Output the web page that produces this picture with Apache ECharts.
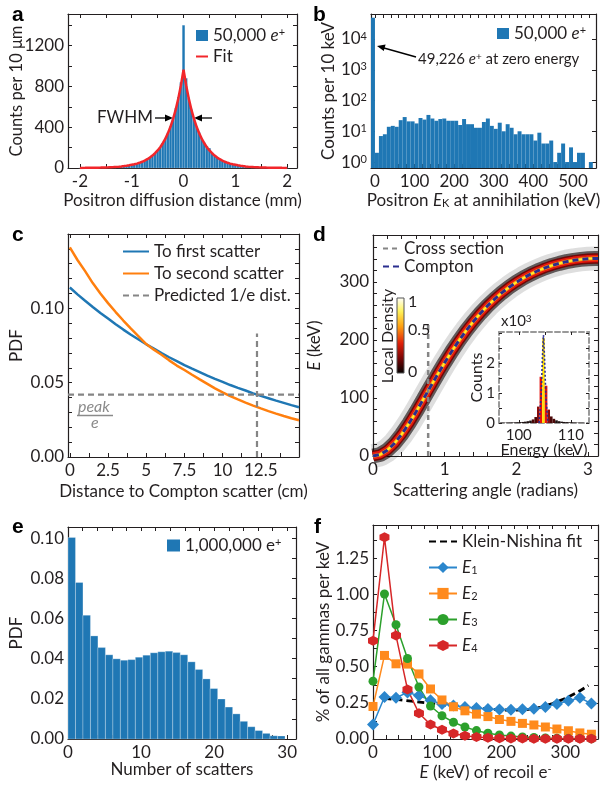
<!DOCTYPE html>
<html>
<head>
<meta charset="utf-8">
<title>Positron diffusion and Compton scatter</title>
<script src="https://cdn.jsdelivr.net/npm/echarts@6/dist/echarts.min.js"></script>
<style>
html, body { margin: 0; padding: 0; background: #fff; }
#chart { width: 608px; height: 788px; }
</style>
</head>
<body>
<div id="chart"></div>
<script>
// ---------- a : positron diffusion distance ----------
var aBinStart = -2.025, aBinWidth = 0.05;
var aCenters = [-2,-1.95,-1.9,-1.85,-1.8,-1.75,-1.7,-1.65,-1.6,-1.55, -1.5,-1.45,-1.4,-1.35,-1.3,-1.25,-1.2,-1.15,-1.1,-1.05,
  -1,-0.95,-0.9,-0.85,-0.8,-0.75,-0.7,-0.65,-0.6,-0.55, -0.5,-0.45,-0.4,-0.35,-0.3,-0.25,-0.2,-0.15,-0.1,-0.05,
  0,
  0.05,0.1,0.15,0.2,0.25,0.3,0.35,0.4,0.45,0.5, 0.55,0.6,0.65,0.7,0.75,0.8,0.85,0.9,0.95,1,
  1.05,1.1,1.15,1.2,1.25,1.3,1.35,1.4,1.45,1.5, 1.55,1.6,1.65,1.7,1.75,1.8,1.85,1.9,1.95,2];
var aCounts = [1,1,2,2,2,3,3,4,4,5, 6,7,8,10,12,14,17,20,24,28,
  33,38,45,53,63,75,89,105,124,147, 172,206,246,292,348,412,492,585,695,840,
  1400,
  880,690,580,490,410,350,292,250,215,195, 150,124,104,88,74,62,52,44,37,32,
  27,23,19,16,13,11,9,8,7,6, 5,4,4,3,3,2,2,2,1,1];
var aFit = [1.0,1.2,1.4,1.7,2.0,2.3,2.8,3.3,3.9,4.7, 5.5,6.6,7.8,9.3,11,13,15.5,18.5,22,26,
  31,36,43,51,61,73,86,102,122,145, 172,204,243,288,343,407,484,575,683,811,
  964,
  811,683,575,484,407,343,288,243,204,172, 145,122,102,86,73,61,51,43,36,31,
  26,22,18.5,15.5,13,11,9.3,7.8,6.6,5.5, 4.7,3.9,3.3,2.8,2.3,2.0,1.7,1.4,1.2,1.0];
var aXTicks = [-2,-1.5,-1,-0.5,0,0.5,1,1.5,2];
var aXLabels = [-2,-1,0,1,2];
var aYTicks = [0,200,400,600,800,1000,1200,1400];
var aYLabels = [0,400,800,1200];

// ---------- b : positron kinetic energy at annihilation ----------
var bBinStart = -10, bBinWidth = 10;
var bCounts = [49226,2,7,8,14,15,14,23,29,21, 21,18,27,24,34,26,22,25,26,22,
  22,22,16,25,17,17,13,13,20,26, 15,12,19,10,17,13,8,10,8,8,
  8,5,9,4,4,5,1,2,4,1, 3,1,2,2,0,1];
var bXTicks = [0,20,40,60,80,100,120,140,160,180,200,220,240,260,280,300,320,340,360,380,400,420,440,460,480,500,520,540];
var bXLabels = [0,100,200,300,400,500];

// ---------- c : distance to Compton scatter ----------
var cDist = [0,0.5,1,1.5,2,2.5,3,3.5,4,4.5,5,5.5,6,6.5,7,7.5,8,8.5,9,9.5,10,10.5,11,11.5,12,12.5,13,13.5,14,14.5,15];
var cFirst = [0.1140,0.1094,0.1051,0.1009,0.0969,0.0931,0.0893,0.0857,0.0822,0.0790,0.0758,0.0729,0.0699,0.0671,0.0645,0.0618,0.0594,0.0571,0.0547,0.0525,
  0.0505,0.0484,0.0465,0.0447,0.0428,0.0411,0.0395,0.0379,0.0364,0.0349,0.0335];
var cSecond = [0.1410,0.1325,0.1250,0.1170,0.1100,0.1035,0.0975,0.0918,0.0863,0.0812,0.0760,0.0722,0.0688,0.0650,0.0615,0.0585,0.0553,0.0522,0.0492,0.0462,
  0.0435,0.0410,0.0387,0.0366,0.0346,0.0327,0.0309,0.0292,0.0276,0.0261,0.0247];
var cPeakOverE = 0.042, cOneOverEDist = 12.25, cDistLineTop = 0.083;
var cXTicks = [0,1.25,2.5,3.75,5,6.25,7.5,8.75,10,11.25,12.5,13.75];
var cXLabels = [0,2.5,5,7.5,10,12.5];
var cYTicks = [0,0.01,0.02,0.03,0.04,0.05,0.06,0.07,0.08,0.09,0.10,0.11,0.12,0.13,0.14];
var cYLabels = [0,0.05,0.10];

// ---------- d : energy vs scattering angle ----------
var dTheta = [0,0.1,0.2,0.3,0.4,0.5,0.6,0.7,0.8,0.9,1.0,1.1,1.2,1.3,1.4,1.5,1.6,1.7,1.8,1.9,2.0,2.1,2.2,2.3,2.4,2.5,2.6,2.7,2.8,2.9,3.0,3.1,3.14];
var dEnergy = [0,2.54,9.98,21.85,37.39,55.73,75.98,97.29,118.92,140.28,160.93,180.55,198.97,216.05,231.77,246.13,259.18,270.96,281.56,291.05,
  299.51,307.00,313.59,319.35,324.33,328.57,332.13,335.04,337.32,339.00,340.10,340.62,340.67];
var dCrossAngle = 0.77, dCrossTop = 231;
var dXTicks = [0,0.2,0.4,0.6,0.8,1,1.2,1.4,1.6,1.8,2,2.2,2.4,2.6,2.8,3];
var dXLabels = [0,1,2,3];
var dYTicks = [0,20,40,60,80,100,120,140,160,180,200,220,240,260,280,300,320,340,360,380];
var dYLabels = [0,100,200,300];

// inset: energy spectrum at the cross section (counts x10^3)
var inBinStart = 96.5, inBinWidth = 0.5;
var inCounts = [0.01,0.01,0.012,0.015,0.018,0.02,0.025,0.03,0.035,0.045,0.06,0.08,0.12,0.2,0.55,1.55,
  2.85,1.25,0.45,0.22,0.14,0.09,0.06,0.045,0.035,0.03,0.025,0.02,0.015,0.012,0.01,0.01];
var inComptonE = [103.9,104.3,104.55,104.75,104.95,105.2,105.6];
var inComptonC = [0,0.9,2.2,2.95,2.2,0.9,0];
var inXTicks = [100,105,110];
var inXLabels = [100,110];
var inYTicks = [0,0.5,1,1.5,2,2.5,3];
var inYLabels = [0,1,2];

// ---------- e : number of scatters ----------
var eBinStart = 0, eBinWidth = 1.024;
var ePdf = [0.1003,0.0779,0.0616,0.0513,0.0455,0.0419,0.0399,0.0392,0.0395,0.0407,
  0.0417,0.0429,0.0434,0.0437,0.0430,0.0419,0.0384,0.0346,0.0299,0.0251,
  0.0199,0.0159,0.0125,0.0088,0.0061,0.0042,0.0028,0.0016,0.0015];
var eXTicks = [0,2,4,6,8,10,12,14,16,18,20,22,24,26,28,30];
var eXLabels = [0,10,20,30];
var eYTicks = [0,0.01,0.02,0.03,0.04,0.05,0.06,0.07,0.08,0.09,0.10];
var eYLabels = [0,0.02,0.04,0.06,0.08,0.10];

// ---------- f : recoil electron energy ----------
var fEnergy = [0,17.9,35.9,53.8,71.7,89.7,107.6,125.5,143.4,161.4,179.3,197.2,215.2,233.1,251.0,268.9,286.9,304.8,322.7,340.7];
var fE1 = [0.10,0.29,0.285,0.322,0.30,0.268,0.242,0.232,0.222,0.215,0.208,0.204,0.203,0.205,0.21,0.222,0.242,0.265,0.285,0.245];
var fE2 = [0.225,0.578,0.52,0.518,0.45,0.346,0.27,0.223,0.195,0.172,0.155,0.135,0.122,0.108,0.097,0.083,0.069,0.057,0.042,0.033];
var fE3 = [0.40,1.003,0.79,0.557,0.36,0.228,0.161,0.116,0.083,0.058,0.04,0.028,0.02,0.014,0.01,0.007,0.005,0.004,0.003,0.002];
var fE4 = [0.68,1.395,0.715,0.343,0.178,0.10,0.064,0.038,0.022,0.014,0.009,0.006,0.004,0.003,0.002,0.002,0.001,0.001,0.001,0.001];
var fKnE = [17.9,40,60,80,100,120,140,160,180,200,220,240,260,280,300,320,336];
var fKn = [0.281,0.272,0.262,0.252,0.242,0.232,0.223,0.214,0.207,0.201,0.199,0.203,0.218,0.245,0.28,0.325,0.37];
var fXTicks = [0,20,40,60,80,100,120,140,160,180,200,220,240,260,280,300,320,340];
var fXLabels = [0,100,200,300];
var fYTicks = [0,0.125,0.25,0.375,0.5,0.625,0.75,0.875,1,1.125,1.25,1.375];
var fYLabels = [0,0.25,0.5,0.75,1,1.25];

// ---------- styling ----------
var FONT = 'Lato';
var INK = '#231f20';
var BLUE = '#1f77b4', ORANGE = '#ff7f0e', GREEN = '#2ca02c', RED = '#d62728';
var GRAY = '#858585', NAVY = '#2b2e8f';

var RICH = {
  i: { fontStyle: 'italic', fontSize: 17, fontFamily: FONT, color: INK },
  sup: { fontSize: 11, fontFamily: FONT, color: INK, verticalAlign: 'top' },
  sub: { fontSize: 11, fontFamily: FONT, color: INK, verticalAlign: 'bottom' }
};

function zip(xs, ys) {
  return xs.map(function (x, i) { return [x, ys[i]]; });
}
function bins(start, width, vals) {
  return vals.map(function (v, i) { return [start + i * width, start + (i + 1) * width, v]; });
}
function fix2(v) { return v.toFixed(2); }
function plain(v) { return String(v); }

var xAxes = [], yAxes = [];
function axis(grid, pos, o, mirror) {
  var ax = {
    type: o.type || 'value', gridIndex: grid, position: pos,
    min: o.min, max: o.max,
    axisLine: { show: true, onZero: false, lineStyle: { color: o.lineColor || INK, width: o.lineWidth || 1.2, type: o.lineType || 'solid' } },
    axisTick: { show: true, inside: true, length: o.tickLen || 4, lineStyle: { color: INK, width: 1 } },
    axisLabel: { show: !mirror, margin: (pos === 'bottom' ? 5 : 4), color: INK, fontFamily: FONT, fontSize: o.fontSize || 17, rich: RICH,
      formatter: o.fmt || plain },
    splitLine: { show: false },
    nameMoveOverlap: false
  };
  if (o.ticks) ax.axisTick.customValues = o.ticks;
  if (o.labels) ax.axisLabel.customValues = o.labels;
  if (o.type === 'log') {
    ax.logBase = 10;
    ax.axisLabel.showMinLabel = false;
    ax.axisLabel.showMaxLabel = false;
  }
  if (!mirror && o.name) {
    ax.name = o.name;
    ax.nameLocation = 'middle';
    ax.nameGap = o.nameGap;
    ax.nameTextStyle = { color: INK, fontFamily: FONT, fontSize: o.nameSize || 17, rich: RICH };
  }
  return ax;
}
function frameAxes(grid, x, y) {
  var xi = xAxes.length, yi = yAxes.length;
  xAxes.push(axis(grid, 'bottom', x, false), axis(grid, 'top', x, true));
  yAxes.push(axis(grid, 'left', y, false), axis(grid, 'right', y, true));
  return { x: xi, y: yi };
}

function histSeries(name, ax, data, colorFn, stroke, z) {
  var base = typeof colorFn === 'string' ? colorFn : '#000';
  return {
    type: 'custom', name: name, xAxisIndex: ax.x, yAxisIndex: ax.y, z: z || 2,
    data: data, encode: { x: [0, 1], y: 2 },
    itemStyle: { color: base },
    renderItem: function (params, api) {
      var v = api.value(2);
      if (!(v > 0)) return null;
      var cs = params.coordSys;
      var p0 = api.coord([api.value(0), v]);
      var p1 = api.coord([api.value(1), v]);
      var bottom = cs.y + cs.height;
      var top = Math.max(p0[1], cs.y);
      var fill = typeof colorFn === 'string' ? colorFn : colorFn(v);
      return {
        type: 'rect',
        shape: { x: p0[0], y: top, width: p1[0] - p0[0], height: bottom - top },
        style: { fill: fill, stroke: stroke || null, lineWidth: stroke ? 0.6 : 0 }
      };
    }
  };
}
function lineSeries(name, ax, data, color, width, type, extra) {
  var s = {
    type: 'line', name: name, xAxisIndex: ax.x, yAxisIndex: ax.y,
    data: data, symbol: 'none', silent: true,
    lineStyle: { color: color, width: width, type: type || 'solid', cap: 'butt' },
    itemStyle: { color: color }
  };
  for (var k in extra) s[k] = extra[k];
  return s;
}

// grids: 0 a, 1 b, 2 c, 3 d, 4 inset, 5 e, 6 f
var grids = [
  { left: 68, top: 14, width: 229, height: 154 },
  { left: 371, top: 14, width: 225, height: 154 },
  { left: 68, top: 234, width: 231, height: 223 },
  { left: 373, top: 235, width: 225, height: 221 },
  { left: 499, top: 332, width: 90, height: 91, show: true, backgroundColor: '#fff', borderWidth: 0 },
  { left: 68, top: 527, width: 228, height: 212 },
  { left: 373, top: 525, width: 225, height: 214 }
];

var axA = frameAxes(0,
  { min: -2.23, max: 2.19, ticks: aXTicks, labels: aXLabels, name: 'Positron diffusion distance (mm)', nameGap: 24 },
  { min: 0, max: 1510, ticks: aYTicks, labels: aYLabels, name: 'Counts per 10 \u03bcm', nameGap: 43, nameSize: 16.5 });
var axB = frameAxes(1,
  { min: -10, max: 558, ticks: bXTicks, labels: bXLabels, name: 'Positron {i|E}{sub|K} at annihilation (keV)', nameGap: 24 },
  { type: 'log', min: 0.64, max: 65000, name: 'Counts per 10 keV', nameGap: 34,
    fmt: function (v) { return '10{sup|' + Math.round(Math.log10(v)) + '}'; } });
var axC = frameAxes(2,
  { min: -0.12, max: 15, ticks: cXTicks, labels: cXLabels, name: 'Distance to Compton scatter (cm)', nameGap: 26 },
  { min: 0, max: 0.15, ticks: cYTicks, labels: cYLabels, fmt: fix2, name: 'PDF', nameGap: 43 });
var axD = frameAxes(3,
  { min: 0, max: 3.14, ticks: dXTicks, labels: dXLabels, name: 'Scattering angle (radians)', nameGap: 26 },
  { min: 0, max: 381, ticks: dYTicks, labels: dYLabels, name: '{i|E} (keV)', nameGap: 50 });
var axIn = frameAxes(4,
  { min: 96.2, max: 113.5, ticks: inXTicks, labels: inXLabels, fontSize: 15, tickLen: 3,
    lineColor: '#999', lineWidth: 2, lineType: [5, 3], name: 'Energy (keV)', nameGap: 19, nameSize: 16 },
  { min: 0, max: 3.05, ticks: inYTicks, labels: inYLabels, fontSize: 15, tickLen: 3,
    lineColor: '#999', lineWidth: 2, lineType: [5, 3], name: 'Counts', nameGap: 14, nameSize: 16 });
var axE = frameAxes(5,
  { min: 0, max: 31.2, ticks: eXTicks, labels: eXLabels, name: 'Number of scatters', nameGap: 22 },
  { min: 0, max: 0.1055, ticks: eYTicks, labels: eYLabels, fmt: fix2, name: 'PDF', nameGap: 43 });
var axF = frameAxes(6,
  { min: 0, max: 351, ticks: fXTicks, labels: fXLabels, name: '{i|E} (keV) of recoil e{sup|-}', nameGap: 25 },
  { min: 0, max: 1.48, ticks: fYTicks, labels: fYLabels, fmt: fix2, name: '% of all gammas per keV', nameGap: 41 });

var NAMES = {
  'a-hist': '50,000 {i|e}{sup|+}', 'a-fit': 'Fit',
  'b-hist': '50,000 {i|e}{sup|+}',
  'c-first': 'To first scatter', 'c-second': 'To second scatter', 'c-pred': 'Predicted 1/e dist.',
  'd-cross': 'Cross section', 'd-compton': 'Compton',
  'e-hist': '1,000,000 e{sup|+}',
  'f-kn': 'Klein-Nishina fit', 'f-e1': '{i|E}{sub|1}', 'f-e2': '{i|E}{sub|2}', 'f-e3': '{i|E}{sub|3}', 'f-e4': '{i|E}{sub|4}'
};
var NO_MARK = { opacity: 0 };
function lineOnly(name) { return { name: name, itemStyle: NO_MARK }; }
function legend(o) {
  var l = {
    orient: 'vertical', selectedMode: false, padding: 0,
    textStyle: { color: INK, fontFamily: FONT, fontSize: 17, rich: RICH },
    formatter: function (n) { return NAMES[n]; }
  };
  for (var k in o) l[k] = o[k];
  return l;
}

function densityColor(v) {
  if (v > 2) return '#ffe000';
  if (v > 1) return '#e8130c';
  if (v > 0.3) return '#8a0c0c';
  if (v > 0.1) return '#4a0808';
  return '#1c1010';
}

var HEX = 'path://M0,-10L8.66,-5L8.66,5L0,10L-8.66,5L-8.66,-5Z';
var dBand = zip(dTheta, dEnergy);

var option = {
  animation: false,
  textStyle: { fontFamily: FONT },
  grid: grids,
  xAxis: xAxes,
  yAxis: yAxes,
  legend: [
    legend({ left: 195, top: 27, itemWidth: 12, itemHeight: 11, itemGap: 4, data: [{ name: 'a-hist', icon: 'rect' }, lineOnly('a-fit')] }),
    legend({ left: 497, top: 25, itemWidth: 12, itemHeight: 11, data: [{ name: 'b-hist', icon: 'rect' }] }),
    legend({ left: 122, top: 243, itemWidth: 26, itemHeight: 12, itemGap: 5, data: [lineOnly('c-first'), lineOnly('c-second'), lineOnly('c-pred')] }),
    legend({ left: 382, top: 240, itemWidth: 16, itemHeight: 10, itemGap: 1, data: [lineOnly('d-cross'), lineOnly('d-compton')] }),
    legend({ left: 167, top: 537, itemWidth: 13, itemHeight: 12, data: [{ name: 'e-hist', icon: 'rect' }] }),
    legend({ left: 428, top: 533, itemWidth: 28, itemHeight: 14, itemGap: 9, data: [lineOnly('f-kn'), 'f-e1', 'f-e2', 'f-e3', 'f-e4'] })
  ],
  series: [
    // a
    histSeries('a-hist', axA, bins(aBinStart, aBinWidth, aCounts), BLUE, 'rgba(255,255,255,0.25)'),
    lineSeries('a-fit', axA, zip(aCenters, aFit), '#f2262b', 2.5),
    // b
    histSeries('b-hist', axB, bins(bBinStart, bBinWidth, bCounts), BLUE),
    // c
    lineSeries('c-first', axC, zip(cDist, cFirst), BLUE, 2.5),
    lineSeries('c-second', axC, zip(cDist, cSecond), ORANGE, 2.5),
    lineSeries('c-pred', axC, [[-0.12, cPeakOverE], [15, cPeakOverE]], GRAY, 2.2, [6, 4]),
    lineSeries('c-pred', axC, [[cOneOverEDist, 0], [cOneOverEDist, cDistLineTop]], GRAY, 2.2, [6, 4]),
    // d density band around the Compton curve
    lineSeries('d-halo', axD, dBand, 'rgba(0,0,0,0.13)', 24),
    lineSeries('d-black', axD, dBand, 'rgba(12,0,0,0.6)', 15),
    lineSeries('d-dark', axD, dBand, '#6e0808', 10.5),
    lineSeries('d-red', axD, dBand, '#e3170d', 7.5),
    lineSeries('d-orange', axD, dBand, '#ff9a10', 3.8),
    lineSeries('d-yellow', axD, dBand, '#fff030', 1.8),
    lineSeries('d-cross', axD, [[dCrossAngle, 0], [dCrossAngle, dCrossTop]], GRAY, 2.5, [5, 4]),
    lineSeries('d-compton', axD, dBand, NAVY, 3, [6, 4]),
    // inset
    histSeries('in-hist', axIn, bins(inBinStart, inBinWidth, inCounts), densityColor, null, 5),
    lineSeries('in-compton', axIn, zip(inComptonE, inComptonC), NAVY, 1.6, [2, 2], { z: 6 }),
    // e
    histSeries('e-hist', axE, bins(eBinStart, eBinWidth, ePdf), BLUE, 'rgba(255,255,255,0.45)'),
    // f
    lineSeries('f-kn', axF, zip(fKnE, fKn), '#000', 2.8, [7, 4]),
    lineSeries('f-e1', axF, zip(fEnergy, fE1), '#2b86cc', 1.5, 'solid', { symbol: 'diamond', symbolSize: 12, showSymbol: true }),
    lineSeries('f-e2', axF, zip(fEnergy, fE2), '#ff8a1c', 1.5, 'solid', { symbol: 'rect', symbolSize: 9, showSymbol: true }),
    lineSeries('f-e3', axF, zip(fEnergy, fE3), GREEN, 1.5, 'solid', { symbol: 'circle', symbolSize: 9, showSymbol: true }),
    lineSeries('f-e4', axF, zip(fEnergy, fE4), RED, 1.5, 'solid', { symbol: HEX, symbolSize: 10, showSymbol: true })
  ],
  graphic: [
    // panel letters
    { type: 'text', x: 12, y: 5, style: { text: 'a', font: 'bold 21px "Liberation Sans"', fill: '#000' } },
    { type: 'text', x: 313, y: 5, style: { text: 'b', font: 'bold 21px "Liberation Sans"', fill: '#000' } },
    { type: 'text', x: 12, y: 225, style: { text: 'c', font: 'bold 21px "Liberation Sans"', fill: '#000' } },
    { type: 'text', x: 313, y: 225, style: { text: 'd', font: 'bold 21px "Liberation Sans"', fill: '#000' } },
    { type: 'text', x: 12, y: 517, style: { text: 'e', font: 'bold 21px "Liberation Sans"', fill: '#000' } },
    { type: 'text', x: 314, y: 517, style: { text: 'f', font: 'bold 21px "Liberation Sans"', fill: '#000' } },
    // a: FWHM
    { type: 'text', x: 97, y: 109, style: { text: 'FWHM', font: '17px Lato', fill: INK } },
    { type: 'line', shape: { x1: 155, y1: 118, x2: 166, y2: 118 }, style: { stroke: '#000', lineWidth: 1.3 } },
    { type: 'polygon', shape: { points: [[173, 118], [165, 114.5], [165, 121.5]] }, style: { fill: '#000' } },
    { type: 'line', shape: { x1: 201, y1: 118, x2: 212, y2: 118 }, style: { stroke: '#000', lineWidth: 1.3 } },
    { type: 'polygon', shape: { points: [[194, 118], [202, 114.5], [202, 121.5]] }, style: { fill: '#000' } },
    // b: annotation
    { type: 'text', x: 418, y: 52, style: { text: '49,226 {i|e}{s|+} at zero energy', font: '15px Lato', fill: INK,
        rich: { i: { fontStyle: 'italic', fontSize: 15, fontFamily: FONT }, s: { fontSize: 10, fontFamily: FONT, verticalAlign: 'top' } } } },
    { type: 'line', shape: { x1: 416, y1: 57, x2: 384, y2: 48 }, style: { stroke: '#000', lineWidth: 1.3 } },
    { type: 'polygon', shape: { points: [[377, 46], [385.6, 44.6], [383.8, 51]] }, style: { fill: '#000' } },
    // c: peak / e
    { type: 'text', x: 78, y: 399, style: { text: 'peak', font: 'italic 16px Lato', fill: '#8a8a8a' } },
    { type: 'line', shape: { x1: 77, y1: 415.5, x2: 113, y2: 415.5 }, style: { stroke: '#8a8a8a', lineWidth: 1.4 } },
    { type: 'text', x: 91, y: 415, style: { text: 'e', font: 'italic 16px Lato', fill: '#8a8a8a' } },
    // d: colour bar
    { type: 'rect', shape: { x: 397, y: 298, width: 7, height: 75 }, z: 10,
      style: { stroke: '#555', lineWidth: 1,
        fill: { type: 'linear', x: 0, y: 0, x2: 0, y2: 1, colorStops: [
          { offset: 0, color: '#ffffff' }, { offset: 0.18, color: '#fff35a' }, { offset: 0.38, color: '#ffa010' },
          { offset: 0.6, color: '#e0200a' }, { offset: 0.8, color: '#7a0505' }, { offset: 1, color: '#000000' }] } } },
    { type: 'text', x: 408, y: 294, z: 10, style: { text: '1', font: '16px Lato', fill: INK } },
    { type: 'text', x: 408, y: 322, z: 10, style: { text: '0.5', font: '16px Lato', fill: INK } },
    { type: 'text', x: 408, y: 364, z: 10, style: { text: '0', font: '16px Lato', fill: INK } },
    { type: 'text', x: 388, y: 336, rotation: Math.PI / 2, z: 10,
      style: { text: 'Local Density', font: '16px Lato', fill: INK, align: 'center', verticalAlign: 'middle', textAlign: 'center', textVerticalAlign: 'middle' } },
    { type: 'text', x: 501, y: 314, z: 10, style: { text: 'x10{s|3}', font: '15px Lato', fill: INK,
        rich: { s: { fontSize: 10, fontFamily: FONT, verticalAlign: 'top' } } } }
  ]
};

var chart = echarts.init(document.getElementById('chart'));
chart.setOption(option);
</script>
</body>
</html>
